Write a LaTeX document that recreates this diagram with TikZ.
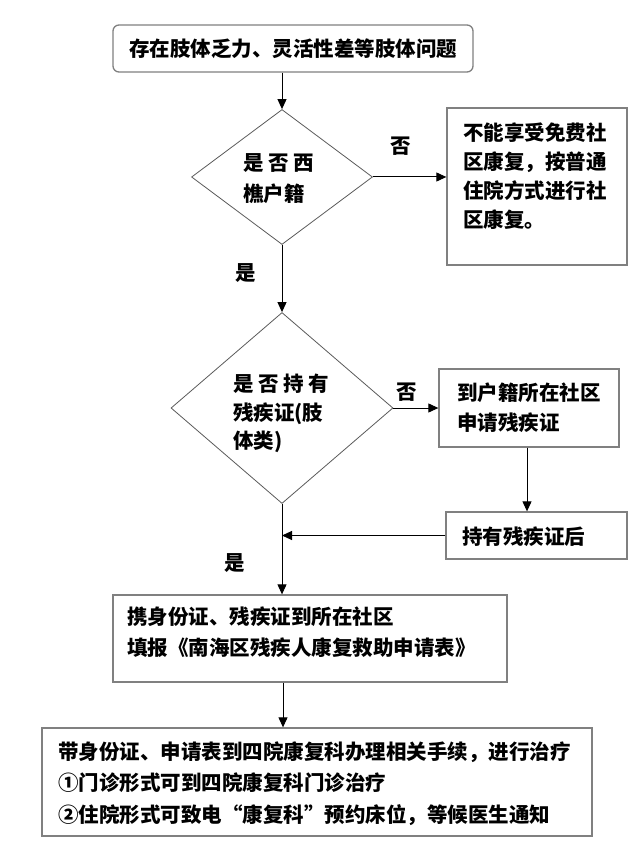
\documentclass[tikz,border=0pt]{standalone}
\usepackage{fontspec}
\setmainfont{Noto Sans CJK SC}
\usetikzlibrary{shapes.geometric,arrows.meta}
\definecolor{boxgray}{RGB}{128,128,128}
\definecolor{diagray}{RGB}{90,90,90}
\tikzset{
  box/.style={draw=boxgray, line width=1.3pt, inner sep=0pt, rectangle},
  dia/.style={draw=diagray, line width=0.8pt, diamond, inner sep=0pt, aspect=1},
  txt/.style={inner sep=0pt, align=left, font=\bfseries\fontsize{20.5}{29}\selectfont},
  lbl/.style={inner sep=0pt, font=\bfseries\fontsize{20.5}{24}\selectfont},
  conn/.style={draw=black, line width=1pt},
  arr/.style={conn, -{Triangle[length=10pt,width=9pt]}}
}
\begin{document}
\begin{tikzpicture}[x=1pt,y=-1pt]
\useasboundingbox (0,0) rectangle (631,858);
% shapes
\node[box, rounded corners=6pt, minimum width=360pt, minimum height=47pt] (top) at (293,48.5) {};
\node[dia, minimum width=181pt, minimum height=135pt] (d1) at (282,177) {};
\node[box, minimum width=180pt, minimum height=157pt] (b2) at (537,186.5) {};
\node[dia, minimum width=222pt, minimum height=191pt] (d2) at (282,408) {};
\node[box, minimum width=180pt, minimum height=78pt] (b3) at (529,408) {};
\node[box, minimum width=181pt, minimum height=47pt] (b4) at (536.5,535.5) {};
\node[box, minimum width=394pt, minimum height=87pt] (b5) at (310,638.5) {};
\node[box, minimum width=550pt, minimum height=108pt] (b6) at (317,782) {};
% texts
\node[txt] (toptxt) at (293,49) {存在肢体乏力、灵活性差等肢体问题};
\node[txt, anchor=west, font=\bfseries\fontsize{20.5}{31}\selectfont] (d1txt) at (243,178.5) {是 否 西\\樵户籍};
\node[txt, anchor=west] (b2txt) at (463,176) {不能享受免费社\\区康复，按普通\\住院方式进行社\\区康复。};
\node[txt, anchor=west, font=\bfseries\fontsize{20.5}{28.5}\selectfont] (d2txt) at (233,413.5) {是 否 持 有\\残疾证(肢\\体类)};
\node[txt, anchor=west, font=\bfseries\fontsize{20.5}{30}\selectfont] (b3txt) at (457,408) {到户籍所在社区\\申请残疾证};
\node[txt, anchor=west] (b4txt) at (462,537) {持有残疾证后};
\node[txt, anchor=west, font=\bfseries\fontsize{20.5}{31}\selectfont] (b5txt) at (127,632.5) {携身份证、残疾证到所在社区\\填报《南海区残疾人康复救助申请表》};
\node[txt, anchor=west, font=\bfseries\fontsize{20.5}{31.5}\selectfont] (b6txt) at (58,783.5) {带身份证、申请表到四院康复科办理相关手续，进行治疗\\①门诊形式可到四院康复科门诊治疗\\②住院形式可致电“康复科”预约床位，等候医生通知};
% labels
\node[lbl] (no1) at (401,146) {否};
\node[lbl] (yes1) at (246,273) {是};
\node[lbl] (no2) at (407,392) {否};
\node[lbl] (yes2) at (235,563) {是};
% connectors
\draw[arr] (d1.north |- top.south) -- (d1.north);
\draw[arr] (d1.east) -- (b2.west |- d1.east);
\draw[arr] (d1.south) -- (d2.north);
\draw[arr] (d2.east) -- (b3.west |- d2.east);
\draw[arr] ([xshift=-2pt]b3.south) -- ([xshift=-2pt]b3.south |- b4.north);
\coordinate (join) at (d2.south |- b4.west);
\draw[arr] (b4.west) -- (join);
\draw[arr] (d2.south) -- (d2.south |- b5.north);
\draw[arr] ([xshift=1pt]d2.south |- b5.south) -- ([xshift=1pt]d2.south |- b6.north);
\end{tikzpicture}
\end{document}
